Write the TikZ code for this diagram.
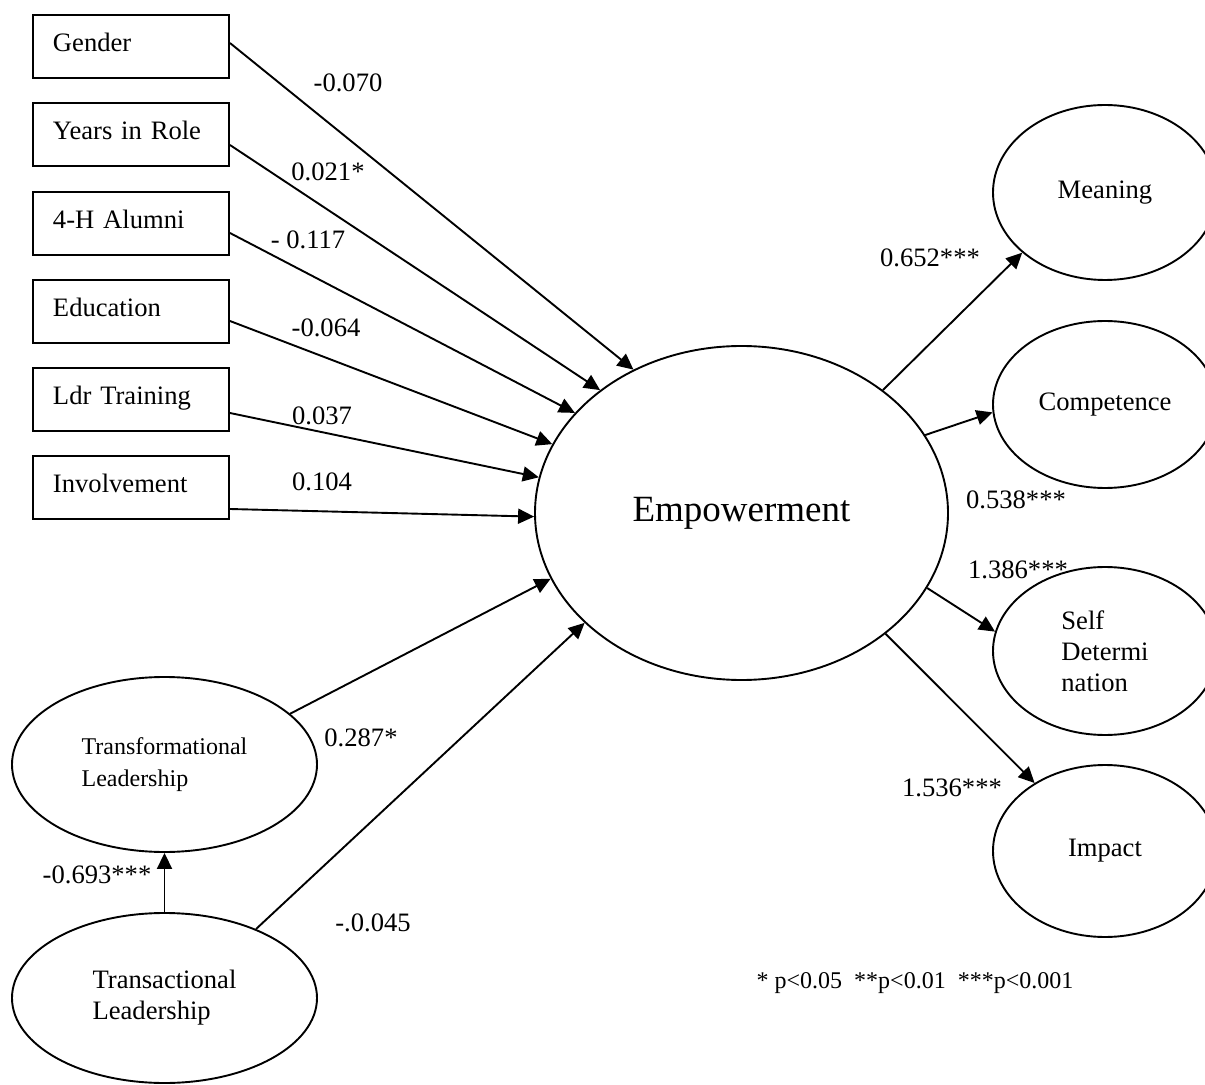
\documentclass[tikz,border=0pt]{standalone}
\usepackage{fontspec}
\setmainfont{Liberation Serif}
\usetikzlibrary{arrows.meta,shapes.geometric}

\begin{document}
\begin{tikzpicture}[x=0.5pt,y=-0.5pt,
  line width=0.95pt,
  every node/.style={font=\fontsize{13.3}{15.5}\selectfont},
  varbox/.style={draw, rectangle, minimum width=98pt, minimum height=31.5pt,
    inner xsep=10pt, inner ysep=0pt, text width=78pt, align=left,
    text height=9pt, text depth=3.5pt},
  latent/.style={draw, ellipse, inner sep=0pt},
  outcome/.style={latent, minimum width=112pt},
  leader/.style={latent, minimum width=152.5pt, align=left},
  coef/.style={inner sep=0pt},
  effect/.style={-{Triangle[length=8pt,width=7.5pt]}},
]
\useasboundingbox (0,0) rectangle (1205,1085);
\clip (0,0) rectangle (1205,1085);

% observed predictors
\node[varbox] (gen)  at (131,46.5)  {Gender};
\node[varbox] (yrs)  at (131,134.5) {Years in Role};
\node[varbox] (alum) at (131,223.5) {4-H Alumni};
\node[varbox] (edu)  at (131,311.5) {Education};
\node[varbox] (ldr)  at (131,399.5) {Ldr Training};
\node[varbox] (inv)  at (131,487.5) {Involvement};

% central construct
\node[latent, minimum width=206.5pt, minimum height=167pt,
      font=\fontsize{18.5}{22}\selectfont] (emp) at (741.5,513) {Empowerment};

% dimensions of empowerment
\node[outcome, minimum height=87.5pt] (mean)  at (1105,192.5) {\raisebox{-3pt}{Meaning}};
\node[outcome, minimum height=83.5pt] (comp)  at (1105,404.5) {Competence};
\node[outcome, minimum height=84pt, align=left] (selfd) at (1105,651) {Self\\Determi\\nation};
\node[outcome, minimum height=86pt]   (imp)   at (1105,851) {Impact};

% leadership styles
\node[leader, minimum height=87.5pt, font=\fontsize{12}{16}\selectfont] (trf) at (164.5,764.5) {Transformational\\Leadership};
\node[leader, minimum height=85pt] (trc) at (164.5,998) {Transactional\\Leadership};

% paths into empowerment
\draw[effect] ([yshift=1.75pt]gen.east)   -- (emp.127.4);
\draw[effect] ([yshift=-5.25pt]yrs.east)  -- (emp.139.1);
\draw[effect] ([yshift=-4.75pt]alum.east) -- (emp.149.8);
\draw[effect] ([yshift=-4.75pt]edu.east)  -- (emp.160.7);
\draw[effect] ([yshift=-6.75pt]ldr.east)  -- (emp.170.2);
\draw[effect] ([yshift=-10.75pt]inv.east) -- (emp.181.4);
\draw[effect] (trf.22.1) -- (emp.199.4);
\draw[effect] (trc.37.9) -- (emp.215.6);
\draw[effect] (trc.north) -- (trf.south);

% paths out of empowerment
\draw[effect] (emp.41.1)  -- (mean.216.3);
\draw[effect] (emp.23.3)  -- (comp.184.3);
\draw[effect] (emp.-22)   -- (selfd.170.4);
\draw[effect] (emp.-40.1) -- (imp.136.7);

% path coefficients
\node[coef] (c1)  at (348,83)   {-0.070};
\node[coef] (c2)  at (328,172)  {0.021*};
\node[coef] (c3)  at (308,240)  {- 0.117};
\node[coef] (c4)  at (326,328)  {-0.064};
\node[coef] (c5)  at (322,416)  {0.037};
\node[coef] (c6)  at (322,482)  {0.104};
\node[coef] (c7)  at (361,738)  {0.287*};
\node[coef] (c8)  at (373,923)  {-.0.045};
\node[coef] (c9)  at (97,875)   {-0.693***};
\node[coef] (c10) at (930,258)  {0.652***};
\node[coef] (c11) at (1016,500) {0.538***};
\node[coef] (c12) at (1018,570) {1.386***};
\node[coef] (c13) at (952,788)  {1.536***};

% significance legend
\node[coef, font=\fontsize{12}{14}\selectfont] (note) at (915,983)
  {* p<0.05\ \ **p<0.01\ \ ***p<0.001};
\end{tikzpicture}
\end{document}
